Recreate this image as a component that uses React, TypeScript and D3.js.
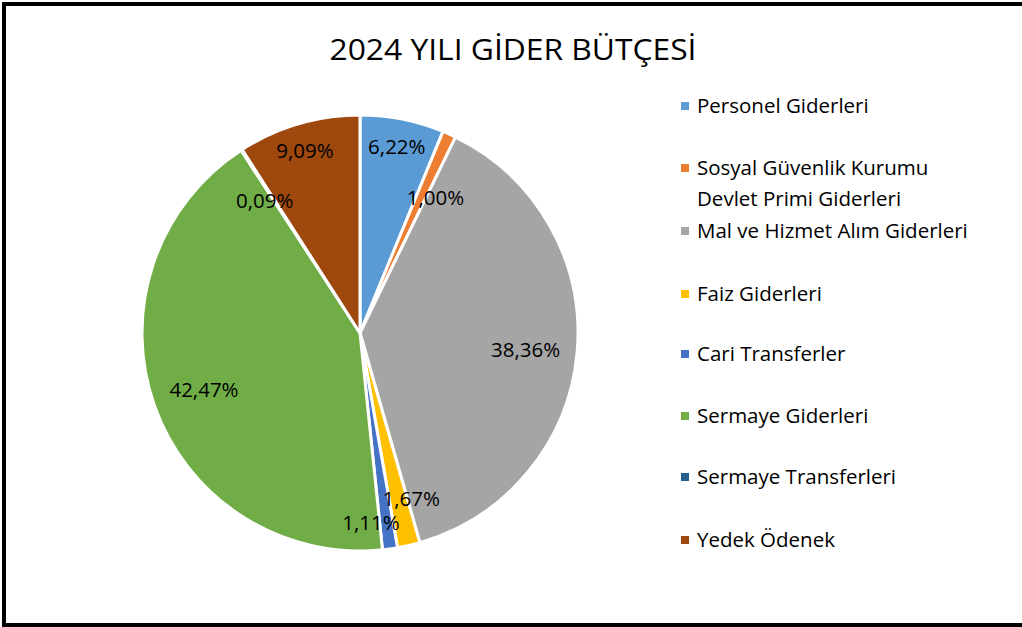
import React from "react";
import * as d3 from "d3";

const categories = [
  "Personel Giderleri",
  "Sosyal Güvenlik Kurumu Devlet Primi Giderleri",
  "Mal ve Hizmet Alım Giderleri",
  "Faiz Giderleri",
  "Cari Transferler",
  "Sermaye Giderleri",
  "Sermaye Transferleri",
  "Yedek Ödenek",
];
const values = [6.22, 1.0, 38.36, 1.67, 1.11, 42.47, 0.09, 9.09];
const valueLabels = ["6,22%", "1,00%", "38,36%", "1,67%", "1,11%", "42,47%", "0,09%", "9,09%"];
const legendLines = [
  ["Personel Giderleri"],
  ["Sosyal Güvenlik Kurumu", "Devlet Primi Giderleri"],
  ["Mal ve Hizmet Alım Giderleri"],
  ["Faiz Giderleri"],
  ["Cari Transferler"],
  ["Sermaye Giderleri"],
  ["Sermaye Transferleri"],
  ["Yedek Ödenek"],
];
const colors = ["#5B9BD5", "#ED7D31", "#A5A5A5", "#FFC000", "#4472C4", "#70AD47", "#255E91", "#9E480E"];
const title = "2024 YILI GİDER BÜTÇESİ";

// label placement (Excel "best fit" style): radius fraction and angle shift (deg)
const labelRadius = [0.87, 0.71, 0.764, 0.793, 0.873, 0.762, 0.75, 0.872];
const labelAngleShift = [0, 5, 0.85, -4.3, 4.6, -0.6, -2.8, -0.5];

const FONT = "'Open Sans', 'Noto Sans', sans-serif";

export default function App() {
  const W = 1022, H = 627;
  const cx = 360, cy = 333, R = 218;
  const pie = d3.pie<number>().sort(null).value((d) => d);
  const arcs = pie(values);
  const arc = d3.arc<d3.PieArcDatum<number>>().innerRadius(0).outerRadius(R);

  const legendPos = [106, 168, 231, 294, 354, 416, 477, 540];

  return (
    <svg width={W} height={H} style={{ position: "absolute", left: 0, top: 0, fontFamily: FONT }}>
      <rect x={0} y={0} width={W} height={H} fill="#fff" />
      <rect x={4} y={4} width={W + 20} height={H - 6} fill="none" stroke="#000" strokeWidth={4} />
      <text x={513} y={60} textAnchor="middle" fontSize={30} fill="#000" textLength={367} lengthAdjust="spacingAndGlyphs">
        {title}
      </text>
      <g transform={`translate(${cx},${cy})`}>
        {arcs.map((a, i) => (
          <path key={i} d={arc(a) || ""} fill={colors[i]} stroke="#fff" strokeWidth={3} strokeLinejoin="round" />
        ))}
        {arcs.map((a, i) => {
          const mid = (a.startAngle + a.endAngle) / 2 + (labelAngleShift[i] * Math.PI) / 180;
          const r = R * labelRadius[i];
          const x = Math.sin(mid) * r;
          const y = -Math.cos(mid) * r;
          return (
            <text key={i} x={x} y={y} dy="0.36em" textAnchor="middle" fontSize={20.5} fill="#000">
              {valueLabels[i]}
            </text>
          );
        })}
      </g>
      <g>
        {legendLines.map((lines, i) => {
          const y = legendPos[i];
          return (
            <g key={i}>
              <rect x={681} y={y - 4} width={8} height={8} fill={colors[i]} />
              {lines.map((ln, j) => (
                <text key={j} x={697} y={y + j * 31} dy="0.36em" fontSize={20.5} fill="#000">
                  {ln}
                </text>
              ))}
            </g>
          );
        })}
      </g>
    </svg>
  );
}
